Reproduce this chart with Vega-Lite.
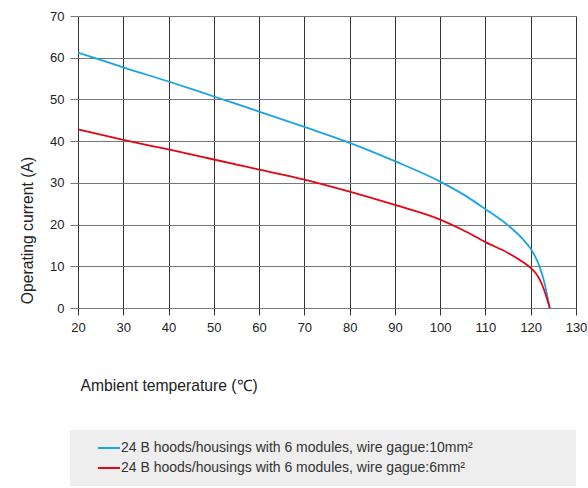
{
  "$schema": "https://vega.github.io/schema/vega-lite/v6.json",
  "width": 498,
  "height": 292,
  "autosize": {"type": "none"},
  "padding": {"left": 78, "top": 16, "right": 12, "bottom": 180},
  "background": "white",
  "config": {
    "font": "Liberation Sans",
    "view": {"stroke": null},
    "axis": {"labelFont": "Liberation Sans", "titleFont": "Liberation Sans", "labelColor": "#222", "titleColor": "#222", "titleFontWeight": "normal", "domain": false},
    "legend": {"labelFont": "Liberation Sans"}
  },
  "data": {
    "values": [
      {"t": 20, "i": 61.2, "s": "24 B hoods/housings with 6 modules, wire gague:10mm²"},
      {"t": 25, "i": 59.5, "s": "24 B hoods/housings with 6 modules, wire gague:10mm²"},
      {"t": 30, "i": 57.7, "s": "24 B hoods/housings with 6 modules, wire gague:10mm²"},
      {"t": 40, "i": 54.3, "s": "24 B hoods/housings with 6 modules, wire gague:10mm²"},
      {"t": 50, "i": 50.7, "s": "24 B hoods/housings with 6 modules, wire gague:10mm²"},
      {"t": 60, "i": 47.1, "s": "24 B hoods/housings with 6 modules, wire gague:10mm²"},
      {"t": 70, "i": 43.4, "s": "24 B hoods/housings with 6 modules, wire gague:10mm²"},
      {"t": 80, "i": 39.6, "s": "24 B hoods/housings with 6 modules, wire gague:10mm²"},
      {"t": 90, "i": 35.2, "s": "24 B hoods/housings with 6 modules, wire gague:10mm²"},
      {"t": 100, "i": 30.3, "s": "24 B hoods/housings with 6 modules, wire gague:10mm²"},
      {"t": 105, "i": 27.3, "s": "24 B hoods/housings with 6 modules, wire gague:10mm²"},
      {"t": 110, "i": 23.7, "s": "24 B hoods/housings with 6 modules, wire gague:10mm²"},
      {"t": 115, "i": 19.8, "s": "24 B hoods/housings with 6 modules, wire gague:10mm²"},
      {"t": 118, "i": 16.8, "s": "24 B hoods/housings with 6 modules, wire gague:10mm²"},
      {"t": 120, "i": 14.2, "s": "24 B hoods/housings with 6 modules, wire gague:10mm²"},
      {"t": 121, "i": 12.3, "s": "24 B hoods/housings with 6 modules, wire gague:10mm²"},
      {"t": 122, "i": 9.8, "s": "24 B hoods/housings with 6 modules, wire gague:10mm²"},
      {"t": 123, "i": 6.2, "s": "24 B hoods/housings with 6 modules, wire gague:10mm²"},
      {"t": 124.2, "i": 0, "s": "24 B hoods/housings with 6 modules, wire gague:10mm²"},
      {"t": 20, "i": 42.8, "s": "24 B hoods/housings with 6 modules, wire gague:6mm²"},
      {"t": 30, "i": 40.3, "s": "24 B hoods/housings with 6 modules, wire gague:6mm²"},
      {"t": 40, "i": 38.0, "s": "24 B hoods/housings with 6 modules, wire gague:6mm²"},
      {"t": 50, "i": 35.6, "s": "24 B hoods/housings with 6 modules, wire gague:6mm²"},
      {"t": 60, "i": 33.2, "s": "24 B hoods/housings with 6 modules, wire gague:6mm²"},
      {"t": 70, "i": 30.8, "s": "24 B hoods/housings with 6 modules, wire gague:6mm²"},
      {"t": 80, "i": 27.9, "s": "24 B hoods/housings with 6 modules, wire gague:6mm²"},
      {"t": 90, "i": 24.7, "s": "24 B hoods/housings with 6 modules, wire gague:6mm²"},
      {"t": 100, "i": 21.2, "s": "24 B hoods/housings with 6 modules, wire gague:6mm²"},
      {"t": 105, "i": 18.7, "s": "24 B hoods/housings with 6 modules, wire gague:6mm²"},
      {"t": 110, "i": 15.8, "s": "24 B hoods/housings with 6 modules, wire gague:6mm²"},
      {"t": 115, "i": 13.2, "s": "24 B hoods/housings with 6 modules, wire gague:6mm²"},
      {"t": 118, "i": 11.2, "s": "24 B hoods/housings with 6 modules, wire gague:6mm²"},
      {"t": 120, "i": 9.6, "s": "24 B hoods/housings with 6 modules, wire gague:6mm²"},
      {"t": 121, "i": 8.5, "s": "24 B hoods/housings with 6 modules, wire gague:6mm²"},
      {"t": 122, "i": 6.8, "s": "24 B hoods/housings with 6 modules, wire gague:6mm²"},
      {"t": 123, "i": 4.2, "s": "24 B hoods/housings with 6 modules, wire gague:6mm²"},
      {"t": 124.2, "i": 0, "s": "24 B hoods/housings with 6 modules, wire gague:6mm²"}
    ]
  },
  "mark": {"type": "line", "interpolate": "monotone", "strokeWidth": 1.8},
  "encoding": {
    "x": {
      "field": "t", "type": "quantitative",
      "scale": {"domain": [20, 130], "nice": false, "zero": false},
      "axis": {
        "values": [20, 30, 40, 50, 60, 70, 80, 90, 100, 110, 120, 130],
        "title": "Ambient temperature (℃)",
        "titleFontSize": 15.7, "titleAnchor": "start", "titleAlign": "left", "titleBaseline": "middle",
        "titleX": 2, "titleY": 77,
        "labelFontSize": 13, "labelPadding": 6, "labelFlush": false,
        "tickSize": 7, "tickColor": "#333", "gridColor": "#333", "gridWidth": 1
      }
    },
    "y": {
      "field": "i", "type": "quantitative",
      "scale": {"domain": [0, 70], "nice": false},
      "axis": {
        "values": [0, 10, 20, 30, 40, 50, 60, 70],
        "title": "Operating current (A)",
        "titleFontSize": 15.7, "titleAnchor": "middle", "titleAlign": "center", "titleBaseline": "middle",
        "titleX": -51, "titleY": 214, "titleAngle": -90,
        "labelFontSize": 13, "labelPadding": 6,
        "tickSize": 8, "tickColor": "#777", "gridColor": "#777", "gridWidth": 1
      }
    },
    "color": {
      "field": "s", "type": "nominal",
      "scale": {
        "domain": ["24 B hoods/housings with 6 modules, wire gague:10mm²", "24 B hoods/housings with 6 modules, wire gague:6mm²"],
        "range": ["#1aa3e6", "#e30613"]
      },
      "legend": {
        "orient": "none", "legendX": -8, "legendY": 414,
        "fillColor": "#eeeeee", "padding": 10,
        "symbolType": "stroke", "symbolSize": 484, "symbolStrokeWidth": 2,
        "symbolOffset": 17, "labelOffset": 0,
        "clipHeight": 16, "rowPadding": 4,
        "labelFontSize": 14, "labelColor": "#333", "labelLimit": 500,
        "title": " ", "titleOrient": "right", "titlePadding": 93
      }
    }
  }
}
